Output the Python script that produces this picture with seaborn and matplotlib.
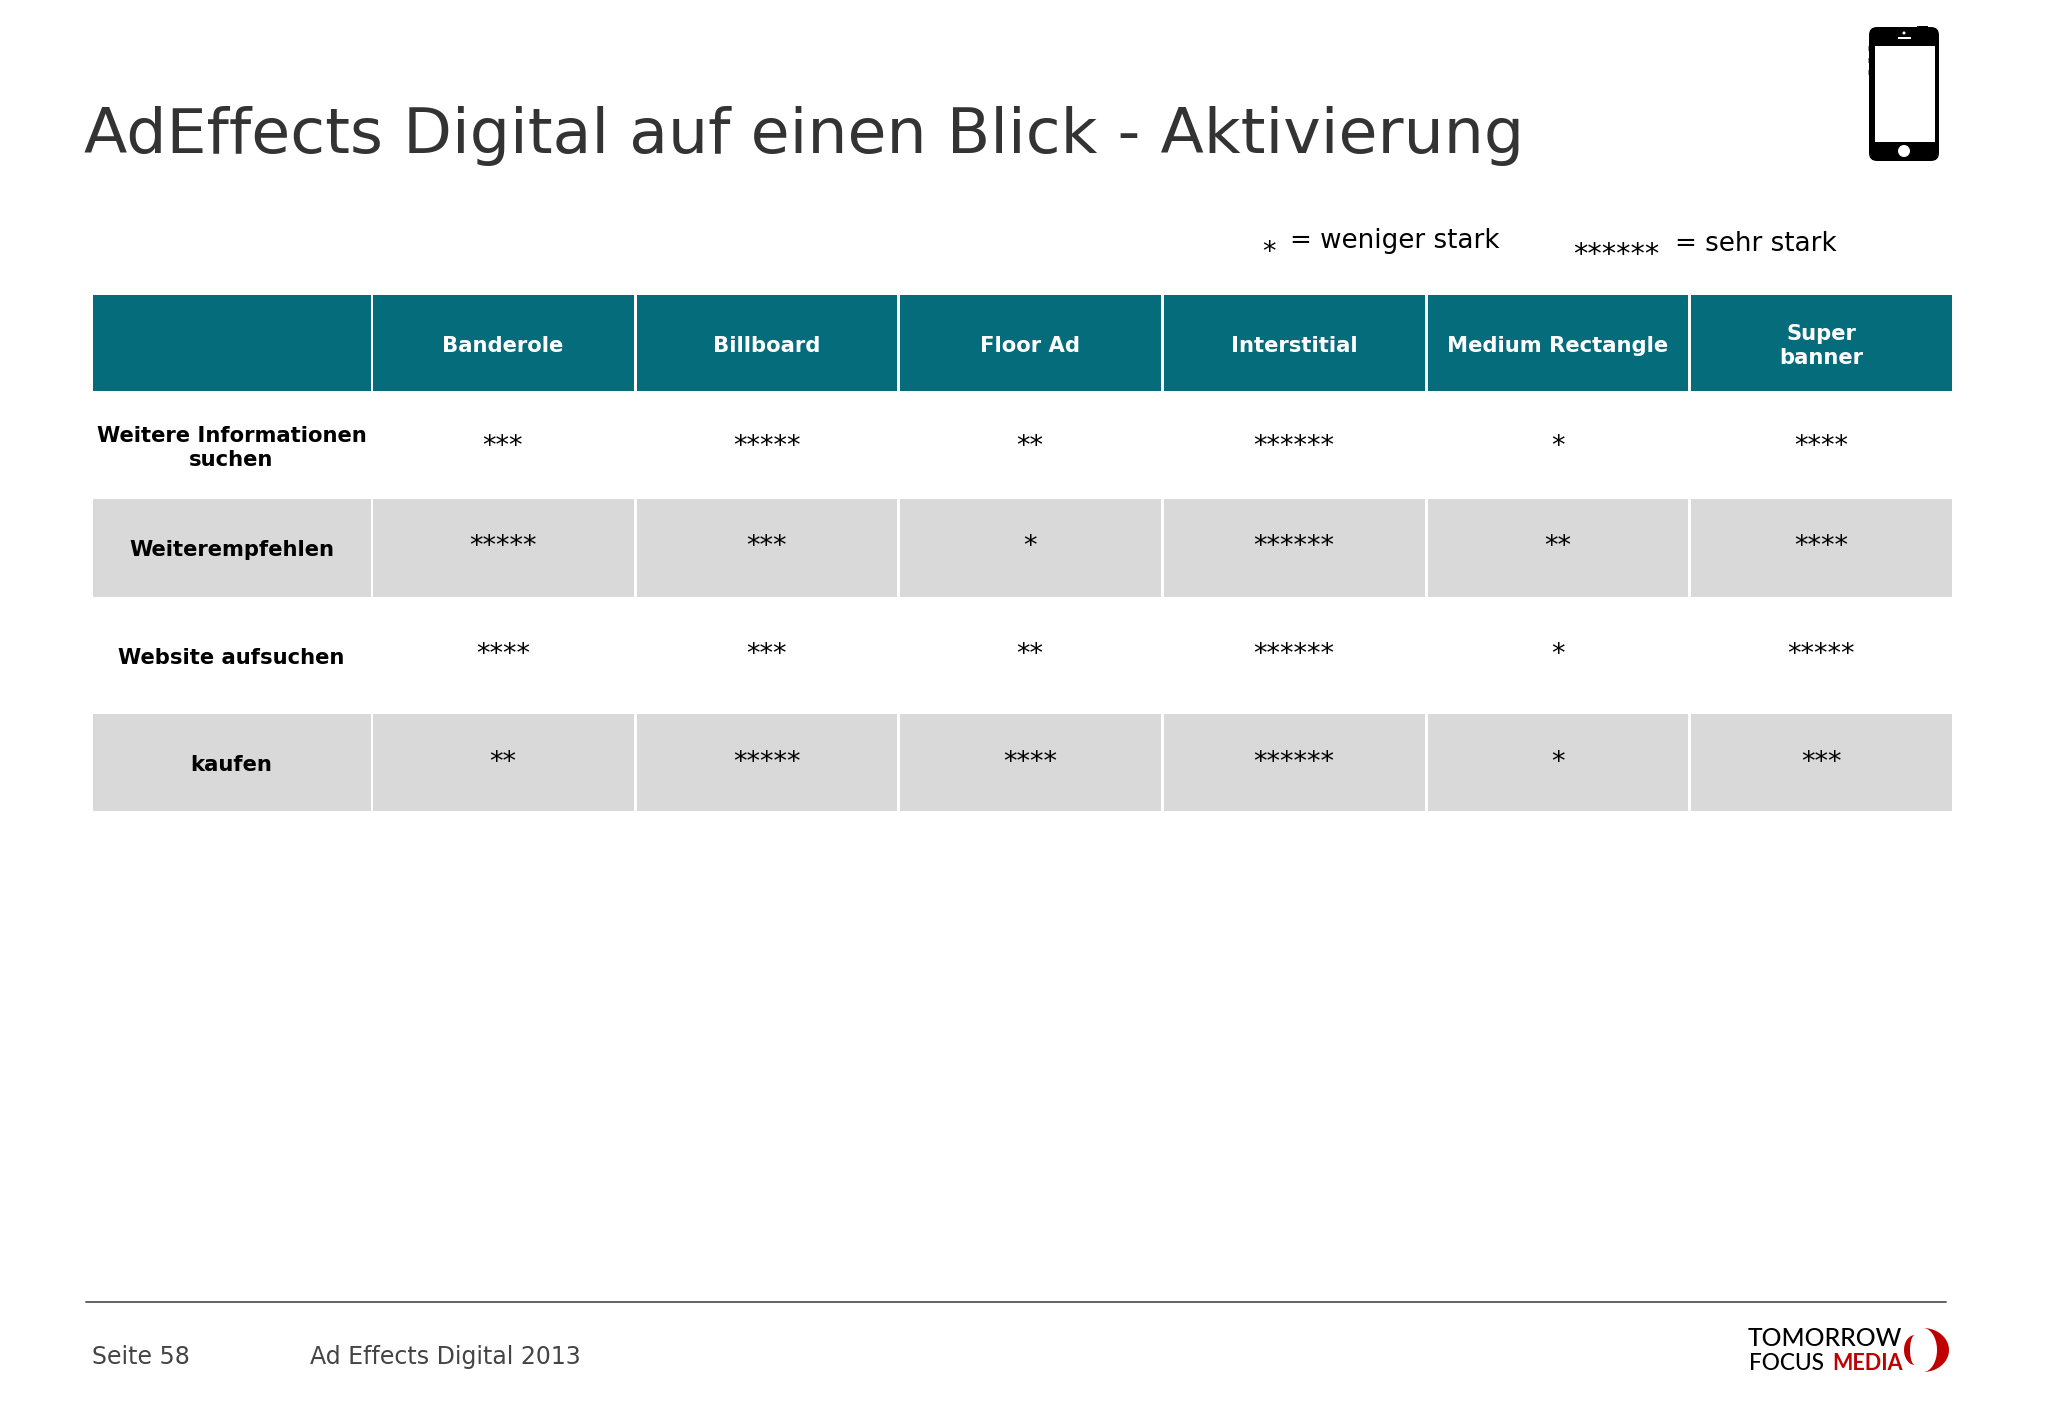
import numpy as np
import seaborn as sns
import matplotlib.pyplot as plt
from matplotlib.colors import ListedColormap
from matplotlib.patches import FancyBboxPatch, Rectangle, Circle, Polygon

W, H = 2048, 1418

TEAL = "#046c7b"
GREY = "#d9d9d9"

columns = ["Banderole", "Billboard", "Floor Ad", "Interstitial", "Medium Rectangle", "Super\nbanner"]
row_names = ["Weitere Informationen\nsuchen", "Weiterempfehlen", "Website aufsuchen", "kaufen"]
informationen = [3, 5, 2, 6, 1, 4]
weiterempfehlen = [5, 3, 1, 6, 2, 4]
website = [4, 3, 2, 6, 1, 5]
kaufen = [2, 5, 4, 6, 1, 3]
rows = [informationen, weiterempfehlen, website, kaufen]

# table layout in pixels of the page
x_label = (91, 372)
x_cells = (371, 1953)
y_header = (293, 392)
y_rows = [(393, 498), (497, 598), (597, 713), (712, 812)]
row_colors = ["white", GREY, "white", GREY]
star_shift = [-2, -3, -3, -2]
label_shift = [2, 2, 3, 3]

sns.set_theme(style="white")
plt.rcParams["font.family"] = ["DejaVu Sans"]

fig = plt.figure(figsize=(W / 100, H / 100), dpi=100)


def px_axes(x, y):
    return fig.add_axes([x[0] / W, 1 - y[1] / H, (x[1] - x[0]) / W, (y[1] - y[0]) / H])


def table_cells(values, annot, x, y, fill, shift=0, **kws):
    ax = px_axes(x, y)
    sns.heatmap(np.atleast_2d(values), ax=ax, annot=np.atleast_2d(annot), fmt="", cmap=ListedColormap([fill]),
                cbar=False, xticklabels=False, yticklabels=False, linewidths=1.8, linecolor="white",
                annot_kws=kws)
    ax.set_xlabel("")
    ax.set_ylabel("")
    for t in ax.texts:
        t.set_y(t.get_position()[1] + shift / (y[1] - y[0]))
    return ax


# header
table_cells([0], [""], x_label, y_header, TEAL)
table_cells(np.zeros(6), columns, x_cells, y_header, TEAL, shift=3, color="white", fontsize=15.2,
            fontweight="bold", linespacing=1.25)

# body
for name, values, y, fill, shift, lab in zip(row_names, rows, y_rows, row_colors, star_shift, label_shift):
    table_cells([0], [name], x_label, y, fill, shift=lab, color="black", fontsize=15.2, fontweight="bold",
                linespacing=1.25)
    table_cells(values, ["*" * n for n in values], x_cells, y, fill, shift=shift, color="black", fontsize=19.5,
                va="center_baseline")

# everything else is drawn on one page sized axes
page = fig.add_axes([0, 0, 1, 1], zorder=5)
page.set_xlim(0, W)
page.set_ylim(H, 0)
page.axis("off")
page.patch.set_alpha(0)

page.text(84, 136, "AdEffects Digital auf einen Blick - Aktivierung", fontsize=45.6, color="#333333",
          ha="left", va="center")

# legend
page.text(1269, 253, "*", fontsize=19.5, color="black", ha="center", va="center")
page.text(1290, 241, "= weniger stark", fontsize=18.8, color="black", ha="left", va="center")
page.text(1616, 255, "******", fontsize=20.5, color="black", ha="center", va="center")
page.text(1675, 244, "= sehr stark", fontsize=18.8, color="black", ha="left", va="center")

# footer
page.plot([86, 1946], [1302, 1302], color="#555555", lw=1.3)
page.text(91.5, 1357, "Seite 58", fontsize=17, color="#444444", ha="left", va="center")
page.text(309.5, 1357, "Ad Effects Digital 2013", fontsize=17, color="#444444", ha="left", va="center")

# logo
page.text(1748, 1338, "TOMORROW", fontsize=17.8, family="Lato", fontweight="medium", color="black", ha="left",
          va="center")
page.text(1749, 1363, "FOCUS", fontsize=16.3, family="Lato", fontweight="medium", color="black", ha="left",
          va="center")
page.text(1832, 1363, "MEDIA", fontsize=15.5, family="Lato", fontweight="bold", color="#c00000", ha="left",
          va="center")
t = np.linspace(-np.pi / 2, np.pi / 2, 40)
outer = np.c_[1923 + 26 * np.cos(t), 1350 + 22 * np.sin(t)]
inner = np.c_[1923 + 14 * np.cos(t), 1350 + 22 * np.sin(t)][::-1]
page.add_patch(Polygon(np.r_[outer, inner], color="#c00000", lw=0))
outer = np.c_[1915 - 11 * np.cos(t), 1350 + 15 * np.sin(t)]
inner = np.c_[1915 - 5 * np.cos(t), 1350 + 15 * np.sin(t)][::-1]
page.add_patch(Polygon(np.r_[outer, inner], color="#c00000", lw=0))

# phone icon
page.add_patch(FancyBboxPatch((1869, 27), 70, 134, boxstyle="round,pad=0,rounding_size=8", fc="black", lw=0))
page.add_patch(Rectangle((1917, 26), 11, 4, fc="black", lw=0))
page.add_patch(Rectangle((1875, 46), 60, 96, fc="white", lw=0))
page.add_patch(Circle((1904, 151), 6, fc="white", lw=0))
page.add_patch(Rectangle((1897.5, 37), 13, 2, fc="white", lw=0))
page.add_patch(Circle((1904, 33), 1.5, fc="white", lw=0))
for y_btn in [46, 58, 70]:
    page.add_patch(Rectangle((1867.5, y_btn), 1.5, 5, fc="#999999", lw=0))

fig.savefig("out.png", dpi=100, facecolor="white")
